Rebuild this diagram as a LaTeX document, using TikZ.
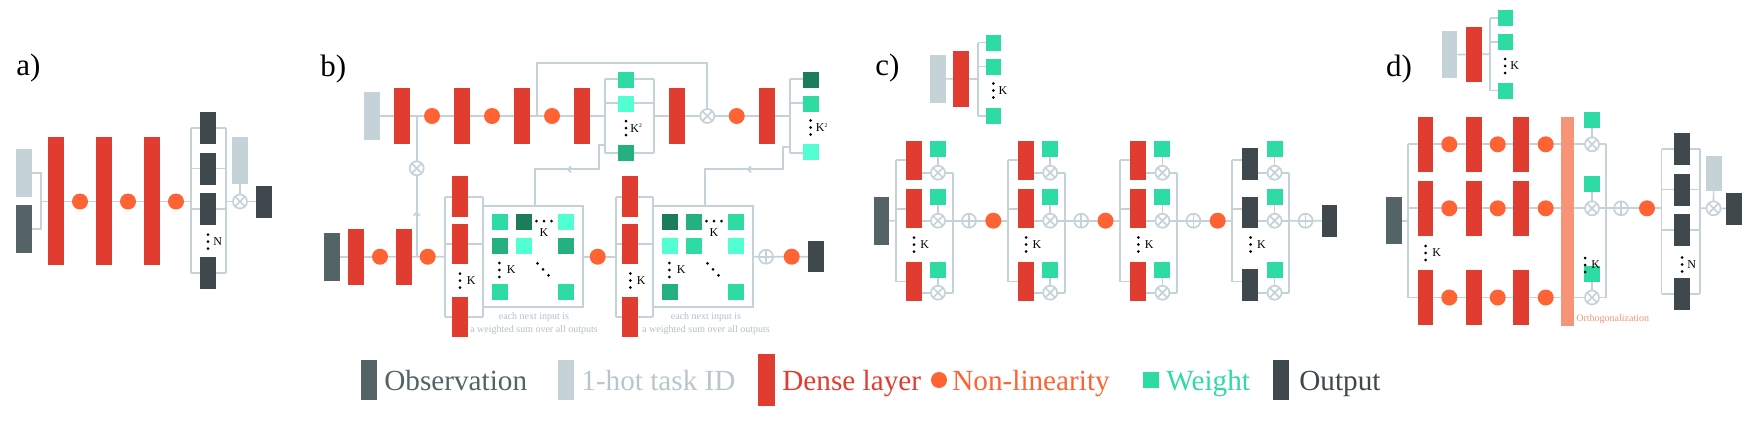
\documentclass[tikz,border=0pt]{standalone}
\usepackage{fontspec}
\setmainfont{Liberation Serif}
\usetikzlibrary{backgrounds}
\definecolor{lineC}{HTML}{C5D3D8}
\definecolor{obsC}{HTML}{546366}
\definecolor{hotC}{HTML}{C5D3D8}
\definecolor{hotT}{HTML}{B9C7CD}
\definecolor{denseC}{HTML}{E03C2F}
\definecolor{nlC}{HTML}{FF6233}
\definecolor{wC}{HTML}{2EDBA3}
\definecolor{wL}{HTML}{52FFD3}
\definecolor{wD}{HTML}{1B7D5A}
\definecolor{wM}{HTML}{24B07F}
\definecolor{outC}{HTML}{3E484D}
\definecolor{orthC}{HTML}{F79478}
\definecolor{noteC}{HTML}{B3C2C8}
\tikzset{
  box/.style={rectangle, inner sep=0pt, outer sep=0pt, draw=none},
  conn/.style={draw=lineC, line width=0.85pt},
  nl/.style={circle, fill=nlC, inner sep=0pt, outer sep=0pt, minimum size=8pt, draw=none},
  ot/.style={circle, draw=lineC, fill=white, line width=0.85pt, inner sep=0pt, outer sep=0pt, minimum size=7pt,
    path picture={\draw[lineC,line width=0.85pt] (path picture bounding box.north west) -- (path picture bounding box.south east) (path picture bounding box.north east) -- (path picture bounding box.south west);}},
  op/.style={circle, draw=lineC, fill=white, line width=0.85pt, inner sep=0pt, outer sep=0pt, minimum size=7pt,
    path picture={\draw[lineC,line width=0.85pt] (path picture bounding box.north) -- (path picture bounding box.south) (path picture bounding box.west) -- (path picture bounding box.east);}},
  klab/.style={font=\fontsize{6}{6}\selectfont, inner sep=0pt, anchor=west},
  panel/.style={font=\fontsize{15.5}{16}\selectfont, inner sep=0pt, anchor=base west},
  legtext/.style={font=\fontsize{14.6}{15}\selectfont, inner sep=0pt, anchor=base west},
  note/.style={font=\fontsize{5}{6.5}\selectfont, text=noteC, inner sep=0pt, align=center},
}
\newcommand\Bx[6]{\node[box,fill=#6,minimum width={((#4)-(#2))*0.5pt},minimum height={((#5)-(#3))*0.5pt}] (#1) at ({((#2)+(#4))/2},{((#3)+(#5))/2}) {};}
\newcommand\Nl[3]{\node[nl] (#1) at ({#2},{#3}) {};}
\newcommand\Ox[3]{\node[ot] (#1) at ({#2},{#3}) {};}
\newcommand\Op[3]{\node[op] (#1) at ({#2},{#3}) {};}
\newcommand\Vd[2]{\fill ({#1},{(#2)-7}) circle (0.75pt) ({#1},{#2}) circle (0.75pt) ({#1},{(#2)+7}) circle (0.75pt);}
\newcommand\Hd[2]{\fill ({(#1)-7.5},{#2}) circle (0.75pt) ({#1},{#2}) circle (0.75pt) ({(#1)+7.5},{#2}) circle (0.75pt);}
\newcommand\Dd[2]{\fill ({(#1)-5.5},{(#2)-6}) circle (0.75pt) ({#1},{#2}) circle (0.75pt) ({(#1)+5.5},{(#2)+6}) circle (0.75pt);}
\newcommand\Ksq{K\raisebox{2.2pt}{\fontsize{2.8}{3}\selectfont 2}}
\begin{document}
\begin{tikzpicture}[x=0.5pt,y=-0.5pt]
\useasboundingbox (0,0) rectangle (1758,420);
% ================= panel a =================
\node[panel] (la) at (16,75.5) {a)};
\Bx{a_hot}{16}{149}{32}{197}{hotC}
\Bx{a_obs}{16}{205}{32}{253}{obsC}
\Bx{a_d1}{48}{137}{64}{265}{denseC}
\Bx{a_d2}{96}{137}{112}{265}{denseC}
\Bx{a_d3}{144}{137}{160}{265}{denseC}
\Nl{a_n1}{80}{201.5}
\Nl{a_n2}{128}{201.5}
\Nl{a_n3}{176}{201.5}
\Bx{a_o1}{200}{112}{216}{144}{outC}
\Bx{a_o2}{200}{152.5}{216}{184.5}{outC}
\Bx{a_o3}{200}{193}{216}{225}{outC}
\Bx{a_o4}{200}{257}{216}{289}{outC}
\Vd{208}{241.5}
\node[klab] (a_N) at (213,241.5) {N};
\Bx{a_task}{232}{137}{248}{184}{hotC}
\Ox{a_x}{240}{201.5}
\Bx{a_out}{256}{185.5}{272}{217.5}{outC}
% ================= panel b =================
\node[panel] (lb) at (320,76) {b)};
\Bx{b_hot}{364}{92}{380}{140}{hotC}
\Bx{b_t1}{394}{88}{410}{144}{denseC}
\Nl{b_tn1}{432}{116}
\Bx{b_t2}{454}{88}{470}{144}{denseC}
\Nl{b_tn2}{492}{116}
\Bx{b_t3}{514}{88}{530}{144}{denseC}
\Nl{b_tn3}{552}{116}
\Bx{b_t4}{574}{88}{590}{144}{denseC}
\Bx{b_w1}{618.3}{71.5}{634.3}{87.5}{wC}
\Bx{b_w2}{618.3}{95.5}{634.3}{111.5}{wL}
\Bx{b_w3}{618.3}{145}{634.3}{161}{wM}
\Vd{626}{128}
\node[klab] (b_k1) at (630,128) {\Ksq};
\Bx{b_t5}{669}{88}{685}{144}{denseC}
\Ox{b_tx}{707.3}{116}
\Nl{b_tn4}{736.7}{116}
\Bx{b_t6}{759}{88}{775}{144}{denseC}
\Bx{b_v1}{802.7}{71.5}{818.7}{87.5}{wD}
\Bx{b_v2}{802.7}{95.5}{818.7}{111.5}{wC}
\Bx{b_v3}{802.7}{144.3}{818.7}{160.3}{wL}
\Vd{810.7}{127.5}
\node[klab] (b_k2) at (815.5,127.5) {\Ksq};
\Ox{b_vx}{416.7}{168.3}
% bottom row
\Bx{b_obs}{324}{233.3}{340}{280.7}{obsC}
\Bx{b_b1}{348}{229}{364}{285}{denseC}
\Nl{b_bn1}{380}{256.7}
\Bx{b_b2}{396}{229}{412}{285}{denseC}
\Nl{b_bn2}{427.7}{256.7}
% stack 1
\Bx{b_s11}{452}{176}{468}{216.7}{denseC}
\Bx{b_s12}{452}{224.3}{468}{264}{denseC}
\Bx{b_s13}{452}{297.3}{468}{337}{denseC}
\Vd{460}{280.5}
\node[klab] at (466.5,280.5) {K};
\node[box,draw=lineC,line width=0.85pt,minimum width={99.4*0.5pt},minimum height={101*0.5pt}] (b_m1) at (533,256.5) {};
\Bx{b_m1c11}{492}{214}{508}{230}{wC}
\Bx{b_m1c12}{516}{214}{532}{230}{wD}
\Bx{b_m1c13}{558}{214}{574}{230}{wL}
\Bx{b_m1c21}{492}{238}{508}{254}{wM}
\Bx{b_m1c22}{516}{238}{532}{254}{wL}
\Bx{b_m1c23}{558}{238}{574}{254}{wM}
\Bx{b_m1c31}{492}{284}{508}{300}{wC}
\Bx{b_m1c33}{558}{284}{574}{300}{wC}
\Hd{544}{221}
\node[klab,anchor=center] at (544,232.5) {K};
\Vd{499.3}{270}
\node[klab] at (506.5,270) {K};
\Dd{543}{269.3}
\node[note] (b_note1) at (534,323.5) {each next input is\\a weighted sum over all outputs};
\Nl{b_bn3}{597.7}{256.7}
% stack 2
\Bx{b_s21}{622}{176}{638}{216.7}{denseC}
\Bx{b_s22}{622}{224.3}{638}{264}{denseC}
\Bx{b_s23}{622}{297.3}{638}{337}{denseC}
\Vd{630.3}{280.5}
\node[klab] at (636.5,280.5) {K};
\node[box,draw=lineC,line width=0.85pt,minimum width={99.4*0.5pt},minimum height={101*0.5pt}] (b_m2) at (703,256.5) {};
\Bx{b_m2c11}{662}{214}{678}{230}{wD}
\Bx{b_m2c12}{686}{214}{702}{230}{wM}
\Bx{b_m2c13}{728}{214}{744}{230}{wC}
\Bx{b_m2c21}{662}{238}{678}{254}{wL}
\Bx{b_m2c22}{686}{238}{702}{254}{wC}
\Bx{b_m2c23}{728}{238}{744}{254}{wL}
\Bx{b_m2c31}{662}{284}{678}{300}{wM}
\Bx{b_m2c33}{728}{284}{744}{300}{wC}
\Hd{714}{221}
\node[klab,anchor=center] at (714,232.5) {K};
\Vd{669.3}{270}
\node[klab] at (676.5,270) {K};
\Dd{713}{269.3}
\node[note] (b_note2) at (706,323.5) {each next input is\\a weighted sum over all outputs};
\Op{b_p}{766}{256.7}
\Nl{b_bn4}{791.7}{256.7}
\Bx{b_out}{808.3}{241}{824}{272.3}{outC}
% ================= panel c =================
\node[panel] (lc) at (875,75) {c)};
\Bx{c_hot}{930}{55}{945.7}{102.7}{hotC}
\Bx{c_hd}{953.3}{51}{969.3}{106.7}{denseC}
\Bx{c_hw1}{985.7}{34.5}{1001.3}{50.5}{wC}
\Bx{c_hw2}{985.7}{58.5}{1001.3}{74.5}{wC}
\Bx{c_hw3}{985.7}{108}{1001.3}{124}{wC}
\Vd{993.3}{90.5}
\node[klab] at (998.3,90.5) {K};
\Bx{c_obs}{874}{197.3}{889.3}{244.7}{obsC}
\foreach \m in {0,1,2} {
  \pgfmathsetmacro\mx{895.7+112.2*\m}
  \Bx{c\m_b1}{\mx+10}{140.7}{\mx+26}{180}{denseC}
  \Bx{c\m_b2}{\mx+10}{189}{\mx+26}{228.3}{denseC}
  \Bx{c\m_b3}{\mx+10}{261.7}{\mx+26}{300.7}{denseC}
  \Op{c\m_p}{\mx+73.3}{220.7}
  \Nl{c\m_n}{\mx+97.6}{220.7}
}
\pgfmathsetmacro\mx{895.7+112.2*3}
\Bx{c3_b1}{\mx+10}{148.3}{\mx+26}{180}{outC}
\Bx{c3_b2}{\mx+10}{196.7}{\mx+26}{228.3}{outC}
\Bx{c3_b3}{\mx+10}{269.3}{\mx+26}{300.7}{outC}
\Op{c3_p}{\mx+73.3}{220.7}
\Bx{c_out}{1321.7}{205}{1337.3}{236.7}{outC}
\foreach \m in {0,1,2,3} {
  \pgfmathsetmacro\mx{895.7+112.2*\m}
  \Bx{c\m_w1}{\mx+34.3}{140.7}{\mx+50.3}{156.7}{wC}
  \Bx{c\m_w2}{\mx+34.3}{189}{\mx+50.3}{205}{wC}
  \Bx{c\m_w3}{\mx+34.3}{261.7}{\mx+50.3}{277.7}{wC}
  \Ox{c\m_x1}{\mx+42.3}{172.7}
  \Ox{c\m_x2}{\mx+42.3}{220.7}
  \Ox{c\m_x3}{\mx+42.3}{292.7}
  \Vd{\mx+18.3}{244.5}
  \node[klab] at (\mx+24.3,244.5) {K};
}
% ================= panel d =================
\node[panel] (ld) at (1385.7,76) {d)};
\Bx{d_hot}{1441.7}{30.7}{1457.3}{78.3}{hotC}
\Bx{d_hd}{1465.7}{26.7}{1481.7}{82.3}{denseC}
\Bx{d_hw1}{1497.7}{10}{1513.3}{26}{wC}
\Bx{d_hw2}{1497.7}{34}{1513.3}{50}{wC}
\Bx{d_hw3}{1497.7}{82.5}{1513.3}{98.5}{wC}
\Vd{1505}{66}
\node[klab] at (1510,66) {K};
\Bx{d_obs}{1385.7}{197.3}{1401.7}{244.3}{obsC}
\foreach \yy [count=\r] in {144.3,208.3,297.5} {
  \Bx{d_b\r a}{1417.7}{\yy-27.8}{1433.3}{\yy+27.8}{denseC}
  \Bx{d_b\r b}{1465.7}{\yy-27.8}{1481.7}{\yy+27.8}{denseC}
  \Bx{d_b\r c}{1513.3}{\yy-27.8}{1529.3}{\yy+27.8}{denseC}
  \Nl{d_n\r a}{1449.3}{\yy}
  \Nl{d_n\r b}{1497.7}{\yy}
  \Nl{d_n\r c}{1545.7}{\yy}
  \Bx{d_w\r}{1584}{\yy-32}{1600}{\yy-16}{wC}
  \Ox{d_x\r}{1592}{\yy}
}
\Vd{1425.7}{253}
\node[klab] at (1432,253) {K};
\Bx{d_orth}{1560.5}{116.5}{1574}{325.5}{orthC}
\node[klab,font=\fontsize{5}{6}\selectfont,text=orthC] (d_orthT) at (1576,319.5) {Orthogonalization};
\Vd{1585}{265}
\node[klab] at (1591,265) {K};
\Op{d_p}{1621}{208.3}
\Nl{d_n}{1647}{208.3}
\Bx{d_o1}{1674}{133}{1690}{165}{outC}
\Bx{d_o2}{1674}{173.5}{1690}{205.5}{outC}
\Bx{d_o3}{1674}{214}{1690}{246}{outC}
\Bx{d_o4}{1674}{278}{1690}{310}{outC}
\Vd{1682}{264.5}
\node[klab] at (1687,264.5) {N};
\Bx{d_task}{1706}{156}{1721.5}{191}{hotC}
\Ox{d_x}{1713.5}{208.3}
\Bx{d_out}{1726}{192.5}{1742}{224.5}{outC}
% ================= legend =================
\Bx{l_obs}{361}{360}{377}{400}{obsC}
\node[legtext,text=obsC] (t_obs) at (384,390) {Observation};
\Bx{l_hot}{558}{360}{574}{400}{hotC}
\node[legtext,text=hotT] (t_hot) at (581,390) {1-hot task ID};
\Bx{l_den}{758}{354}{775}{406}{denseC}
\node[legtext,text=denseC] (t_den) at (782,390) {Dense layer};
\Nl{l_nl}{939}{380}
\node[legtext,text=nlC] (t_nl) at (952,390) {Non-linearity};
\Bx{l_w}{1143}{372}{1159}{388}{wC}
\node[legtext,text=wC] (t_w) at (1166,390) {Weight};
\Bx{l_out}{1273}{360}{1289}{400}{outC}
\node[legtext,text=outC] (t_out) at (1299,390) {Output};
% ================= connectors =================
\begin{scope}[on background layer]
\fill[white] (0,0) rectangle (1758,420);
% a
\draw[conn] (a_hot.east|-0,173) -- (41,173) -- (41,229) -- (a_obs.east|-0,229);
\draw[conn] (41,201.5) -- (190.7,201.5);
\draw[conn] (190.7,128) -- (190.7,273) (225.7,128) -- (225.7,273);
\foreach \yy in {128,168.5,209,273} {\draw[conn] (190.7,\yy) -- (225.7,\yy);}
\draw[conn] (225.7,201.5) -- (a_x) -- (a_out) (a_task) -- (a_x);
% b top
\draw[conn] (b_hot) -- (605,116);
\draw[conn] (605,79.3) -- (605,153.3) (654,79.3) -- (654,153.3);
\foreach \yy in {79.3,103.3,153.3} {\draw[conn] (605,\yy) -- (654,\yy);}
\draw[conn] (654,116) -- (790,116);
\draw[conn] (536.7,116) -- (536.7,63.3) -- (707.3,63.3) -- (b_tx);
\draw[conn] (790,79.3) -- (790,153.3);
\foreach \yy in {79.3,103.3,153.3} {\draw[conn] (790,\yy) -- (802.7,\yy);}
\draw[conn] (605,145) -- (599.3,145) -- (599.3,169.3) -- (535,169.3) -- (535,206);
\draw[conn] (790,146.7) -- (783.3,146.7) -- (783.3,169.3) -- (705,169.3) -- (705,206);
\draw[conn] (571,166.3) -- (568,169.3) -- (571,172.3);
\draw[conn] (751,166.3) -- (748,169.3) -- (751,172.3);
\draw[conn] (416.7,116) -- (b_vx) -- (416.7,256.7);
\draw[conn] (413.7,215.7) -- (416.7,212.7) -- (419.7,215.7);
% b bottom
\draw[conn] (b_obs) -- (445,256.7);
\draw[conn] (445,196.7) -- (445,317) (483.3,196.7) -- (483.3,317);
\foreach \yy in {196.7,244,317} {\draw[conn] (445,\yy) -- (483.3,\yy);}
\draw[conn] (b_m1.east|-0,256.7) -- (615.7,256.7);
\draw[conn] (615.7,196.7) -- (615.7,317) (653.3,196.7) -- (653.3,317);
\foreach \yy in {196.7,244,317} {\draw[conn] (615.7,\yy) -- (653.3,\yy);}
\draw[conn] (b_m2.east|-0,256.7) -- (b_out);
% c
\draw[conn] (c_hot) -- (978.3,78.9);
\draw[conn] (978.3,42.5) -- (978.3,116);
\foreach \yy in {42.5,66.5,116} {\draw[conn] (978.3,\yy) -- (985.7,\yy);}
\draw[conn] (c_obs) -- (895.7,220.7);
\foreach \m in {0,1,2,3} {
  \pgfmathsetmacro\mx{895.7+112.2*\m}
  \draw[conn] (\mx,160) -- (\mx,281.5);
  \foreach \yy in {160,209,281.5} {\draw[conn] (\mx,\yy) -- (\mx+10,\yy);}
  \foreach \yy in {172.7,220.7,292.7} {\draw[conn] (\mx+26,\yy) -- (\mx+57,\yy);}
  \draw[conn] (\mx+57,172.7) -- (\mx+57,292.7);
  \draw[conn] (\mx+42.3,156.7) -- (\mx+42.3,172.7) (\mx+42.3,205) -- (\mx+42.3,220.7) (\mx+42.3,277.7) -- (\mx+42.3,292.7);
}
\foreach \m in {0,1,2} {
  \pgfmathsetmacro\mx{895.7+112.2*\m}
  \draw[conn] (\mx+57,220.7) -- (\mx+112.2,220.7);
}
\draw[conn] (1289,220.7) -- (c_out);
% d
\draw[conn] (d_hot) -- (1490,54.3);
\draw[conn] (1490,18) -- (1490,90.5);
\foreach \yy in {18,42,90.5} {\draw[conn] (1490,\yy) -- (1497.7,\yy);}
\draw[conn] (d_obs) -- (1408.3,220.8);
\draw[conn] (1408.3,144.3) -- (1408.3,297.5);
\foreach \yy in {144.3,208.3,297.5} {
  \draw[conn] (1408.3,\yy) -- (1560.5,\yy);
  \draw[conn] (1574,\yy) -- (1606,\yy);
  \draw[conn] (1592,\yy-16) -- (1592,\yy);
}
\draw[conn] (1606,144.3) -- (1606,297.5);
\draw[conn] (1606,208.3) -- (1661.5,208.3);
\draw[conn] (1661.5,149) -- (1661.5,294) (1700,149) -- (1700,294);
\foreach \yy in {149,189.5,230,294} {\draw[conn] (1661.5,\yy) -- (1700,\yy);}
\draw[conn] (1700,208.3) -- (d_x) -- (d_out) (d_task) -- (d_x);
\end{scope}
\end{tikzpicture}
\end{document}
